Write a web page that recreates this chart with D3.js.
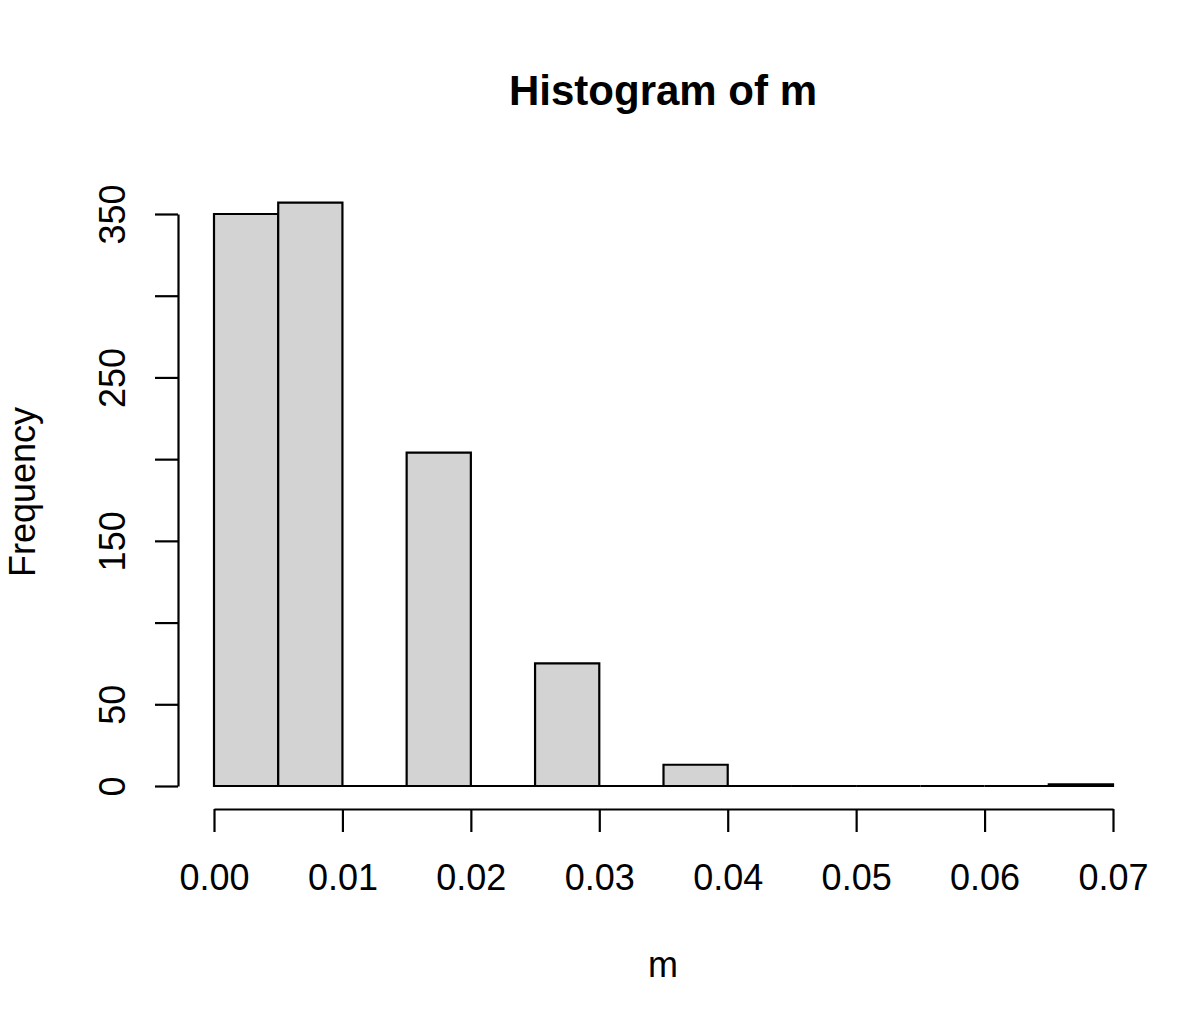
<!DOCTYPE html>
<html>
<head>
<meta charset="utf-8">
<script src="https://cdn.jsdelivr.net/npm/d3@7"></script>
<style>
  body { margin: 0; background: #fff; }
  svg { display: block; font-family: "Liberation Sans", Arial, Helvetica, sans-serif; }
</style>
</head>
<body>
<script>
// histogram data
var breaks = [0, 0.005, 0.01, 0.015, 0.02, 0.025, 0.03, 0.035, 0.04, 0.045, 0.05, 0.055, 0.06, 0.065, 0.07];
var counts = [350, 357, 0, 204, 0, 75, 0, 13, 0, 0, 0, 0, 0, 1];
var xTicks = [0, 0.01, 0.02, 0.03, 0.04, 0.05, 0.06, 0.07];
var yTicks = [0, 50, 100, 150, 200, 250, 300, 350];
var yShown = [0, 50, 150, 250, 350];

var svgWidth = 1200;
var svgHeight = 1011;

var svg = d3.select("body")
  .append("svg")
  .attr("width", svgWidth)
  .attr("height", svgHeight);

var xScale = d3.scaleLinear()
  .domain([0, 0.07])
  .range([214, 1113]);

var yScale = d3.scaleLinear()
  .domain([0, 350])
  .range([786, 214]);

var bins = counts.map((c, i) => ({x0: breaks[i], x1: breaks[i + 1], n: c}));

// bars as closed paths so empty bins still show as a line on the baseline
svg.selectAll(".bar")
  .data(bins)
  .enter()
  .append("path")
  .attr("class", "bar")
  .attr("d", d => {
    var p = d3.path();
    p.rect(xScale(d.x0), yScale(d.n), xScale(d.x1) - xScale(d.x0), yScale(0) - yScale(d.n));
    return p.toString();
  })
  .attr("fill", "#d3d3d3")
  .attr("stroke", "#000")
  .attr("stroke-width", 2.2);

// x axis
var xAxis = svg.append("g")
  .attr("transform", "translate(0, 809)")
  .call(d3.axisBottom(xScale)
    .tickValues(xTicks)
    .tickFormat(d3.format(".2f"))
    .tickSize(23)
    .tickSizeOuter(0));

xAxis.selectAll("text")
  .attr("y", 81)
  .attr("dy", 0)
  .attr("font-size", 36)
  .attr("fill", "#000");

// y axis
var yAxis = svg.append("g")
  .attr("transform", "translate(178, 0)")
  .call(d3.axisLeft(yScale)
    .tickValues(yTicks)
    .tickFormat(d => yShown.includes(d) ? d : "")
    .tickSize(23)
    .tickSizeOuter(0));

yAxis.selectAll("text")
  .attr("transform", "rotate(-90)")
  .attr("x", 0)
  .attr("y", -53)
  .attr("dy", 0)
  .attr("text-anchor", "middle")
  .attr("font-size", 36)
  .attr("fill", "#000");

svg.selectAll(".domain, .tick line")
  .attr("stroke", "#000")
  .attr("stroke-width", 2.2);

// titles
svg.append("text")
  .attr("x", 663)
  .attr("y", 105)
  .attr("text-anchor", "middle")
  .attr("font-size", 42)
  .attr("font-weight", "bold")
  .text("Histogram of m");

svg.append("text")
  .attr("x", 663)
  .attr("y", 977)
  .attr("text-anchor", "middle")
  .attr("font-size", 36)
  .text("m");

svg.append("text")
  .attr("transform", "translate(35, 492) rotate(-90)")
  .attr("text-anchor", "middle")
  .attr("font-size", 36)
  .text("Frequency");
</script>
</body>
</html>
